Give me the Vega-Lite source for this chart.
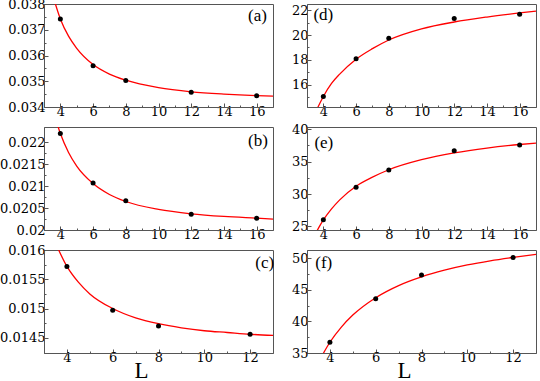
{
  "$schema": "https://vega.github.io/schema/vega-lite/v6.json",
  "padding": {"left": -1, "top": -3, "right": 0, "bottom": 0},
  "background": "white",
  "config": {
    "font": "Liberation Serif",
    "view": {"stroke": "#555", "strokeWidth": 1},
    "axis": {"labelFont": "DejaVu Serif", "labelFontSize": 13, "labelColor": "black", "domainColor": "#555", "tickColor": "#555", "grid": false, "labelPadding": 3, "titleFont": "Liberation Serif", "titleFontWeight": "normal", "titleColor": "black"},
    "axisX": {"labelPadding": 2},
    "text": {"font": "Liberation Serif", "fontSize": 17, "color": "black"}
  },
  "datasets": {
    "curves": [
      {"panel": "a", "L": 3.6, "v": 0.0382}, {"panel": "a", "L": 4, "v": 0.03742}, {"panel": "a", "L": 4.5, "v": 0.03675}, {"panel": "a", "L": 5, "v": 0.03628}, {"panel": "a", "L": 6, "v": 0.03565}, {"panel": "a", "L": 7, "v": 0.03528}, {"panel": "a", "L": 8, "v": 0.03504}, {"panel": "a", "L": 10, "v": 0.03475}, {"panel": "a", "L": 12, "v": 0.03459}, {"panel": "a", "L": 14, "v": 0.0345}, {"panel": "a", "L": 16, "v": 0.03444}, {"panel": "a", "L": 17, "v": 0.03442},
      {"panel": "b", "L": 3.7, "v": 0.02255}, {"panel": "b", "L": 4, "v": 0.0222}, {"panel": "b", "L": 4.5, "v": 0.02177}, {"panel": "b", "L": 5, "v": 0.02146}, {"panel": "b", "L": 6, "v": 0.02106}, {"panel": "b", "L": 7, "v": 0.02081}, {"panel": "b", "L": 8, "v": 0.02065}, {"panel": "b", "L": 10, "v": 0.02047}, {"panel": "b", "L": 12, "v": 0.02037}, {"panel": "b", "L": 14, "v": 0.02031}, {"panel": "b", "L": 16, "v": 0.02027}, {"panel": "b", "L": 17, "v": 0.02025},
      {"panel": "c", "L": 3.5, "v": 0.01612}, {"panel": "c", "L": 4, "v": 0.01572}, {"panel": "c", "L": 4.5, "v": 0.01545}, {"panel": "c", "L": 5, "v": 0.01525}, {"panel": "c", "L": 6, "v": 0.015}, {"panel": "c", "L": 7, "v": 0.01484}, {"panel": "c", "L": 8, "v": 0.01474}, {"panel": "c", "L": 9, "v": 0.01467}, {"panel": "c", "L": 10, "v": 0.01462}, {"panel": "c", "L": 11, "v": 0.01459}, {"panel": "c", "L": 12, "v": 0.01456}, {"panel": "c", "L": 13, "v": 0.01454},
      {"panel": "d", "L": 3.6, "v": 14.0}, {"panel": "d", "L": 4, "v": 15.05}, {"panel": "d", "L": 4.5, "v": 16.1}, {"panel": "d", "L": 5, "v": 16.85}, {"panel": "d", "L": 6, "v": 18.05}, {"panel": "d", "L": 7, "v": 18.9}, {"panel": "d", "L": 8, "v": 19.6}, {"panel": "d", "L": 10, "v": 20.5}, {"panel": "d", "L": 12, "v": 21.05}, {"panel": "d", "L": 14, "v": 21.45}, {"panel": "d", "L": 16, "v": 21.78}, {"panel": "d", "L": 17, "v": 21.93},
      {"panel": "e", "L": 3.5, "v": 23.8}, {"panel": "e", "L": 4, "v": 26.0}, {"panel": "e", "L": 4.5, "v": 27.7}, {"panel": "e", "L": 5, "v": 29.1}, {"panel": "e", "L": 6, "v": 31.2}, {"panel": "e", "L": 7, "v": 32.6}, {"panel": "e", "L": 8, "v": 33.75}, {"panel": "e", "L": 10, "v": 35.3}, {"panel": "e", "L": 12, "v": 36.35}, {"panel": "e", "L": 14, "v": 37.1}, {"panel": "e", "L": 16, "v": 37.65}, {"panel": "e", "L": 17, "v": 37.87},
      {"panel": "f", "L": 3.6, "v": 34.2}, {"panel": "f", "L": 4, "v": 36.7}, {"panel": "f", "L": 4.5, "v": 39.1}, {"panel": "f", "L": 5, "v": 41.0}, {"panel": "f", "L": 6, "v": 43.75}, {"panel": "f", "L": 7, "v": 45.67}, {"panel": "f", "L": 8, "v": 47.05}, {"panel": "f", "L": 9, "v": 48.1}, {"panel": "f", "L": 10, "v": 48.93}, {"panel": "f", "L": 11, "v": 49.58}, {"panel": "f", "L": 12, "v": 50.12}, {"panel": "f", "L": 13, "v": 50.6}
    ],
    "points": [
      {"panel": "a", "L": 4, "v": 0.03742}, {"panel": "a", "L": 6, "v": 0.0356}, {"panel": "a", "L": 8, "v": 0.03503}, {"panel": "a", "L": 12, "v": 0.03457}, {"panel": "a", "L": 16, "v": 0.03444},
      {"panel": "b", "L": 4, "v": 0.0222}, {"panel": "b", "L": 6, "v": 0.02107}, {"panel": "b", "L": 8, "v": 0.02067}, {"panel": "b", "L": 12, "v": 0.02036}, {"panel": "b", "L": 16, "v": 0.02027},
      {"panel": "c", "L": 4, "v": 0.01572}, {"panel": "c", "L": 6, "v": 0.01497}, {"panel": "c", "L": 8, "v": 0.0147}, {"panel": "c", "L": 12, "v": 0.01456},
      {"panel": "d", "L": 4, "v": 15.04}, {"panel": "d", "L": 6, "v": 18.08}, {"panel": "d", "L": 8, "v": 19.74}, {"panel": "d", "L": 12, "v": 21.34}, {"panel": "d", "L": 16, "v": 21.68},
      {"panel": "e", "L": 4, "v": 26.02}, {"panel": "e", "L": 6, "v": 31.05}, {"panel": "e", "L": 8, "v": 33.7}, {"panel": "e", "L": 12, "v": 36.7}, {"panel": "e", "L": 16, "v": 37.56},
      {"panel": "f", "L": 4, "v": 36.7}, {"panel": "f", "L": 6, "v": 43.58}, {"panel": "f", "L": 8, "v": 47.36}, {"panel": "f", "L": 12, "v": 50.1}
    ],
    "labels": [
      {"panel": "a", "L": 16.05, "v": 0.03753, "text": "(a)"},
      {"panel": "b", "L": 16.08, "v": 0.02204, "text": "(b)"},
      {"panel": "c", "L": 12.64, "v": 0.01577, "text": "(c)"},
      {"panel": "d", "L": 4.0, "v": 21.6, "text": "(d)"},
      {"panel": "e", "L": 4.03, "v": 37.9, "text": "(e)"},
      {"panel": "f", "L": 3.73, "v": 49.3, "text": "(f)"}
    ]
  },
  "columns": 2,
  "bounds": "flush",
  "spacing": {"row": 20, "column": 34},
  "concat": [
    {
      "width": 229, "height": 103,
      "layer": [
        {"data": {"name": "curves"}, "transform": [{"filter": "datum.panel == 'a'"}],
         "mark": {"type": "line", "color": "#ff0000", "strokeWidth": 1.3, "clip": true, "interpolate": "monotone"},
         "encoding": {
           "x": {"field": "L", "type": "quantitative", "scale": {"domain": [3, 17], "nice": false, "zero": false}, "axis": {"orient": "bottom", "values": [4, 6, 8, 10, 12, 14, 16], "format": "~g", "labelFont": "DejaVu Serif", "labelFontSize": 13, "tickSize": -4, "title": null}},
           "y": {"field": "v", "type": "quantitative", "scale": {"domain": [0.034, 0.038], "nice": false, "zero": false}, "axis": {"orient": "left", "values": [0.034, 0.035, 0.036, 0.037, 0.038], "format": "~g", "labelFont": "DejaVu Serif", "labelFontSize": 13, "tickSize": -4, "title": null}}}},
        {"data": {"name": "points"}, "transform": [{"filter": "datum.panel == 'a'"}],
         "mark": {"type": "circle", "color": "black", "size": 25, "opacity": 1},
         "encoding": {
           "x": {"field": "L", "type": "quantitative", "axis": {"orient": "bottom", "values": [5, 7, 9, 11, 13, 15], "labels": false, "domain": false, "tickSize": -2, "title": null}},
           "y": {"field": "v", "type": "quantitative", "axis": {"orient": "left", "values": [0.0345, 0.0355, 0.0365, 0.0375], "labels": false, "domain": false, "tickSize": -2, "title": null}}}},
        {"data": {"name": "labels"}, "transform": [{"filter": "datum.panel == 'a'"}],
         "mark": {"type": "text"},
         "encoding": {"x": {"field": "L", "type": "quantitative", "axis": null}, "y": {"field": "v", "type": "quantitative", "axis": null}, "text": {"field": "text"}}}
      ],
      "resolve": {"axis": {"x": "independent", "y": "independent"}}
    },
    {
      "width": 229, "height": 103,
      "layer": [
        {"data": {"name": "curves"}, "transform": [{"filter": "datum.panel == 'd'"}],
         "mark": {"type": "line", "color": "#ff0000", "strokeWidth": 1.3, "clip": true, "interpolate": "monotone"},
         "encoding": {
           "x": {"field": "L", "type": "quantitative", "scale": {"domain": [3, 17], "nice": false, "zero": false}, "axis": {"orient": "bottom", "values": [4, 6, 8, 10, 12, 14, 16], "format": "~g", "labelFont": "DejaVu Serif", "labelFontSize": 13, "tickSize": -4, "title": null}},
           "y": {"field": "v", "type": "quantitative", "scale": {"domain": [14.2, 22.5], "nice": false, "zero": false}, "axis": {"orient": "left", "values": [16, 18, 20, 22], "format": "~g", "labelFont": "DejaVu Serif", "labelFontSize": 13, "tickSize": -4, "title": null}}}},
        {"data": {"name": "points"}, "transform": [{"filter": "datum.panel == 'd'"}],
         "mark": {"type": "circle", "color": "black", "size": 25, "opacity": 1},
         "encoding": {
           "x": {"field": "L", "type": "quantitative", "axis": {"orient": "bottom", "values": [5, 7, 9, 11, 13, 15], "labels": false, "domain": false, "tickSize": -2, "title": null}},
           "y": {"field": "v", "type": "quantitative", "axis": {"orient": "left", "values": [15, 17, 19, 21], "labels": false, "domain": false, "tickSize": -2, "title": null}}}},
        {"data": {"name": "labels"}, "transform": [{"filter": "datum.panel == 'd'"}],
         "mark": {"type": "text"},
         "encoding": {"x": {"field": "L", "type": "quantitative", "axis": null}, "y": {"field": "v", "type": "quantitative", "axis": null}, "text": {"field": "text"}}}
      ],
      "resolve": {"axis": {"x": "independent", "y": "independent"}}
    },
    {
      "width": 229, "height": 103,
      "layer": [
        {"data": {"name": "curves"}, "transform": [{"filter": "datum.panel == 'b'"}],
         "mark": {"type": "line", "color": "#ff0000", "strokeWidth": 1.3, "clip": true, "interpolate": "monotone"},
         "encoding": {
           "x": {"field": "L", "type": "quantitative", "scale": {"domain": [3, 17], "nice": false, "zero": false}, "axis": {"orient": "bottom", "values": [4, 6, 8, 10, 12, 14, 16], "format": "~g", "labelFont": "DejaVu Serif", "labelFontSize": 13, "tickSize": -4, "title": null}},
           "y": {"field": "v", "type": "quantitative", "scale": {"domain": [0.02, 0.02235], "nice": false, "zero": false}, "axis": {"orient": "left", "values": [0.02, 0.0205, 0.021, 0.0215, 0.022], "format": "~g", "labelFont": "DejaVu Serif", "labelFontSize": 13, "tickSize": -4, "title": null}}}},
        {"data": {"name": "points"}, "transform": [{"filter": "datum.panel == 'b'"}],
         "mark": {"type": "circle", "color": "black", "size": 25, "opacity": 1},
         "encoding": {
           "x": {"field": "L", "type": "quantitative", "axis": {"orient": "bottom", "values": [5, 7, 9, 11, 13, 15], "labels": false, "domain": false, "tickSize": -2, "title": null}},
           "y": {"field": "v", "type": "quantitative", "axis": {"orient": "left", "values": [0.02025, 0.02075, 0.02125, 0.02175], "labels": false, "domain": false, "tickSize": -2, "title": null}}}},
        {"data": {"name": "labels"}, "transform": [{"filter": "datum.panel == 'b'"}],
         "mark": {"type": "text"},
         "encoding": {"x": {"field": "L", "type": "quantitative", "axis": null}, "y": {"field": "v", "type": "quantitative", "axis": null}, "text": {"field": "text"}}}
      ],
      "resolve": {"axis": {"x": "independent", "y": "independent"}}
    },
    {
      "width": 229, "height": 103,
      "layer": [
        {"data": {"name": "curves"}, "transform": [{"filter": "datum.panel == 'e'"}],
         "mark": {"type": "line", "color": "#ff0000", "strokeWidth": 1.3, "clip": true, "interpolate": "monotone"},
         "encoding": {
           "x": {"field": "L", "type": "quantitative", "scale": {"domain": [3, 17], "nice": false, "zero": false}, "axis": {"orient": "bottom", "values": [4, 6, 8, 10, 12, 14, 16], "format": "~g", "labelFont": "DejaVu Serif", "labelFontSize": 13, "tickSize": -4, "title": null}},
           "y": {"field": "v", "type": "quantitative", "scale": {"domain": [24.45, 40.35], "nice": false, "zero": false}, "axis": {"orient": "left", "values": [25, 30, 35, 40], "format": "~g", "labelFont": "DejaVu Serif", "labelFontSize": 13, "tickSize": -4, "title": null}}}},
        {"data": {"name": "points"}, "transform": [{"filter": "datum.panel == 'e'"}],
         "mark": {"type": "circle", "color": "black", "size": 25, "opacity": 1},
         "encoding": {
           "x": {"field": "L", "type": "quantitative", "axis": {"orient": "bottom", "values": [5, 7, 9, 11, 13, 15], "labels": false, "domain": false, "tickSize": -2, "title": null}},
           "y": {"field": "v", "type": "quantitative", "axis": {"orient": "left", "values": [27.5, 32.5, 37.5], "labels": false, "domain": false, "tickSize": -2, "title": null}}}},
        {"data": {"name": "labels"}, "transform": [{"filter": "datum.panel == 'e'"}],
         "mark": {"type": "text"},
         "encoding": {"x": {"field": "L", "type": "quantitative", "axis": null}, "y": {"field": "v", "type": "quantitative", "axis": null}, "text": {"field": "text"}}}
      ],
      "resolve": {"axis": {"x": "independent", "y": "independent"}}
    },
    {
      "width": 229, "height": 103,
      "layer": [
        {"data": {"name": "curves"}, "transform": [{"filter": "datum.panel == 'c'"}],
         "mark": {"type": "line", "color": "#ff0000", "strokeWidth": 1.3, "clip": true, "interpolate": "monotone"},
         "encoding": {
           "x": {"field": "L", "type": "quantitative", "scale": {"domain": [3, 13], "nice": false, "zero": false}, "axis": {"orient": "bottom", "values": [4, 6, 8, 10, 12], "format": "~g", "labelFont": "DejaVu Serif", "labelFontSize": 13, "tickSize": -4, "title": "L", "titleFont": "Liberation Serif", "titleFontWeight": "normal", "titleFontSize": 23, "titleX": 97, "titleY": 24, "titleBaseline": "alphabetic"}},
           "y": {"field": "v", "type": "quantitative", "scale": {"domain": [0.01424, 0.016], "nice": false, "zero": false}, "axis": {"orient": "left", "values": [0.0145, 0.015, 0.0155, 0.016], "format": "~g", "labelFont": "DejaVu Serif", "labelFontSize": 13, "tickSize": -4, "title": null}}}},
        {"data": {"name": "points"}, "transform": [{"filter": "datum.panel == 'c'"}],
         "mark": {"type": "circle", "color": "black", "size": 25, "opacity": 1},
         "encoding": {
           "x": {"field": "L", "type": "quantitative", "axis": {"orient": "bottom", "values": [5, 7, 9, 11], "labels": false, "domain": false, "tickSize": -2, "title": null}},
           "y": {"field": "v", "type": "quantitative", "axis": {"orient": "left", "values": [0.01475, 0.01525, 0.01575], "labels": false, "domain": false, "tickSize": -2, "title": null}}}},
        {"data": {"name": "labels"}, "transform": [{"filter": "datum.panel == 'c'"}],
         "mark": {"type": "text"},
         "encoding": {"x": {"field": "L", "type": "quantitative", "axis": null}, "y": {"field": "v", "type": "quantitative", "axis": null}, "text": {"field": "text"}}}
      ],
      "resolve": {"axis": {"x": "independent", "y": "independent"}}
    },
    {
      "width": 229, "height": 103,
      "layer": [
        {"data": {"name": "curves"}, "transform": [{"filter": "datum.panel == 'f'"}],
         "mark": {"type": "line", "color": "#ff0000", "strokeWidth": 1.3, "clip": true, "interpolate": "monotone"},
         "encoding": {
           "x": {"field": "L", "type": "quantitative", "scale": {"domain": [3, 13], "nice": false, "zero": false}, "axis": {"orient": "bottom", "values": [4, 6, 8, 10, 12], "format": "~g", "labelFont": "DejaVu Serif", "labelFontSize": 13, "tickSize": -4, "title": "L", "titleFont": "Liberation Serif", "titleFontWeight": "normal", "titleFontSize": 23, "titleX": 97, "titleY": 24, "titleBaseline": "alphabetic"}},
           "y": {"field": "v", "type": "quantitative", "scale": {"domain": [35, 51.3], "nice": false, "zero": false}, "axis": {"orient": "left", "values": [35, 40, 45, 50], "format": "~g", "labelFont": "DejaVu Serif", "labelFontSize": 13, "tickSize": -4, "title": null}}}},
        {"data": {"name": "points"}, "transform": [{"filter": "datum.panel == 'f'"}],
         "mark": {"type": "circle", "color": "black", "size": 25, "opacity": 1},
         "encoding": {
           "x": {"field": "L", "type": "quantitative", "axis": {"orient": "bottom", "values": [5, 7, 9, 11], "labels": false, "domain": false, "tickSize": -2, "title": null}},
           "y": {"field": "v", "type": "quantitative", "axis": {"orient": "left", "values": [37.5, 42.5, 47.5], "labels": false, "domain": false, "tickSize": -2, "title": null}}}},
        {"data": {"name": "labels"}, "transform": [{"filter": "datum.panel == 'f'"}],
         "mark": {"type": "text"},
         "encoding": {"x": {"field": "L", "type": "quantitative", "axis": null}, "y": {"field": "v", "type": "quantitative", "axis": null}, "text": {"field": "text"}}}
      ],
      "resolve": {"axis": {"x": "independent", "y": "independent"}}
    }
  ]
}
